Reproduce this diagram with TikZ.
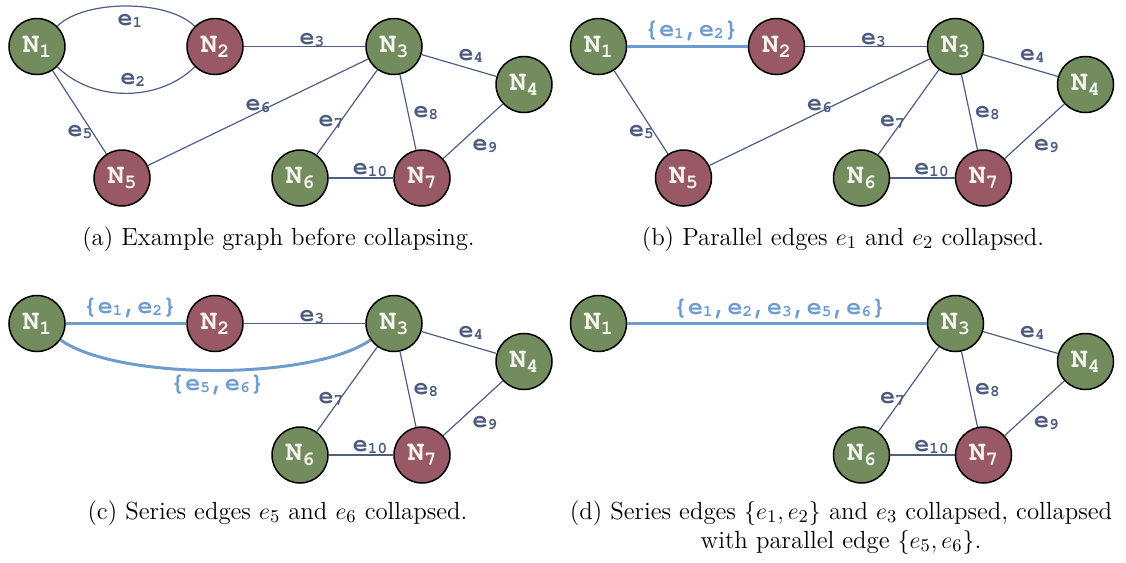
\documentclass[tikz,border=0pt]{standalone}
\usepackage{fontspec}
\newfontfamily\cur{TeX Gyre Cursor}
\definecolor{ngreen}{RGB}{114,140,94}
\definecolor{nred}{RGB}{152,88,101}
\definecolor{edgec}{RGB}{78,94,132}
\definecolor{labc}{RGB}{76,90,126}
\definecolor{hic}{RGB}{110,156,207}
\definecolor{ntext}{RGB}{244,244,238}
\newcommand\elab[1]{e\raisebox{-1pt}{\fontsize{8}{8}\selectfont #1}}
\newcommand\nlab[1]{N\raisebox{-2.5pt}{\fontsize{10}{10}\selectfont #1}}
\tikzset{
  gnode/.style={circle, draw=black, line width=0.75pt, fill=ngreen, minimum size=28pt,
    inner sep=0pt, text=ntext, font=\cur\bfseries\fontsize{14}{14}\selectfont},
  rnode/.style={gnode, fill=nred},
  conn/.style={draw=edgec, line width=0.6pt},
  hiconn/.style={draw=hic, line width=1.5pt},
  lbl/.style={text=labc, inner sep=0pt, text height=5pt, text depth=1.5pt,
    font=\cur\bfseries\fontsize{12.5}{12.5}\selectfont},
  hlbl/.style={text=hic},
  captext/.style={inner sep=0pt, font=\fontsize{12.4}{14.5}\selectfont}
}
\begin{document}
\begin{tikzpicture}[x=0.5pt, y=-0.5pt]
\useasboundingbox (0,0) rectangle (1126,563);

% ---------- panel (a)
\begin{scope}
\node[gnode] (a1) at (37,46.5) {\nlab1};
\node[rnode] (a2) at (215,46.5) {\nlab2};
\node[gnode] (a3) at (394,46.5) {\nlab3};
\node[gnode] (a4) at (524,84.5) {\nlab4};
\node[rnode] (a5) at (122,178) {\nlab5};
\node[gnode] (a6) at (300,178) {\nlab6};
\node[rnode] (a7) at (422,178) {\nlab7};
\draw[conn] (a1.45) .. controls +(26.9,-26.9) and +(-26.9,-26.9) .. node[lbl, xshift=2pt, yshift=-8pt]{\elab1} (a2.135);
\draw[conn] (a1.-45) .. controls +(35.4,35.4) and +(-35.4,35.4) .. node[lbl, xshift=3.5pt, yshift=6.2pt]{\elab2} (a2.-135);
\draw[conn] (a2) -- node[lbl, xshift=3.75pt, yshift=2.75pt]{\elab3} (a3);
\draw[conn] (a3) -- node[lbl, xshift=6pt, yshift=4.25pt]{\elab4} (a4);
\draw[conn] (a1) -- node[lbl, xshift=0.25pt, yshift=-10.4pt]{\elab5} (a5);
\draw[conn] (a5) -- node[lbl, yshift=2.6pt]{\elab6} (a3);
\draw[conn] (a3) -- node[lbl, xshift=-8pt, yshift=-5.6pt]{\elab7} (a6);
\draw[conn] (a3) -- node[lbl, xshift=9pt, yshift=-0.9pt]{\elab8} (a7);
\draw[conn] (a4) -- node[lbl, xshift=6pt, yshift=-7.9pt]{\elab9} (a7);
\draw[conn] (a6) -- node[lbl, xshift=4.5pt, yshift=3.5pt]{\elab{10}} (a7);
\end{scope}

% ---------- panel (b)
\begin{scope}[shift={(561.5,0)}]
\node[gnode] (b1) at (37,46.5) {\nlab1};
\node[rnode] (b2) at (215,46.5) {\nlab2};
\node[gnode] (b3) at (394,46.5) {\nlab3};
\node[gnode] (b4) at (524,84.5) {\nlab4};
\node[rnode] (b5) at (122,178) {\nlab5};
\node[gnode] (b6) at (300,178) {\nlab6};
\node[rnode] (b7) at (422,178) {\nlab7};
\draw[hiconn] (b1) -- node[lbl, hlbl, xshift=2pt, yshift=6.75pt]{\{\elab1,\elab2\}} (b2);
\draw[conn] (b2) -- node[lbl, xshift=3.75pt, yshift=2.75pt]{\elab3} (b3);
\draw[conn] (b3) -- node[lbl, xshift=6pt, yshift=4.25pt]{\elab4} (b4);
\draw[conn] (b1) -- node[lbl, xshift=0.25pt, yshift=-10.4pt]{\elab5} (b5);
\draw[conn] (b5) -- node[lbl, yshift=2.6pt]{\elab6} (b3);
\draw[conn] (b3) -- node[lbl, xshift=-8pt, yshift=-5.6pt]{\elab7} (b6);
\draw[conn] (b3) -- node[lbl, xshift=9pt, yshift=-0.9pt]{\elab8} (b7);
\draw[conn] (b4) -- node[lbl, xshift=6pt, yshift=-7.9pt]{\elab9} (b7);
\draw[conn] (b6) -- node[lbl, xshift=4.5pt, yshift=3.5pt]{\elab{10}} (b7);
\end{scope}

% ---------- panel (c)
\begin{scope}[shift={(0,277)}]
\node[gnode] (c1) at (37,46.5) {\nlab1};
\node[rnode] (c2) at (215,46.5) {\nlab2};
\node[gnode] (c3) at (394,46.5) {\nlab3};
\node[gnode] (c4) at (524,84.5) {\nlab4};
\node[gnode] (c6) at (300,178) {\nlab6};
\node[rnode] (c7) at (422,178) {\nlab7};
\draw[hiconn] (c1) -- node[lbl, hlbl, xshift=2pt, yshift=6.75pt]{\{\elab1,\elab2\}} (c2);
\draw[hiconn] (c1.-35) .. controls +(58.2,40.7) and +(-58.2,40.7) .. node[lbl, hlbl, xshift=1pt, yshift=-8.35pt]{\{\elab5,\elab6\}} (c3.-145);
\draw[conn] (c2) -- node[lbl, xshift=3.75pt, yshift=2.75pt]{\elab3} (c3);
\draw[conn] (c3) -- node[lbl, xshift=6pt, yshift=4.25pt]{\elab4} (c4);
\draw[conn] (c3) -- node[lbl, xshift=-8pt, yshift=-5.6pt]{\elab7} (c6);
\draw[conn] (c3) -- node[lbl, xshift=9pt, yshift=-0.9pt]{\elab8} (c7);
\draw[conn] (c4) -- node[lbl, xshift=6pt, yshift=-7.9pt]{\elab9} (c7);
\draw[conn] (c6) -- node[lbl, xshift=4.5pt, yshift=3.5pt]{\elab{10}} (c7);
\end{scope}

% ---------- panel (d)
\begin{scope}[shift={(561.5,277)}]
\node[gnode] (d1) at (37,46.5) {\nlab1};
\node[gnode] (d3) at (394,46.5) {\nlab3};
\node[gnode] (d4) at (524,84.5) {\nlab4};
\node[gnode] (d6) at (300,178) {\nlab6};
\node[rnode] (d7) at (422,178) {\nlab7};
\draw[hiconn] (d1) -- node[lbl, hlbl, xshift=1.25pt, yshift=6.5pt]{\{\elab1,\elab2,\elab3,\elab5,\elab6\}} (d3);
\draw[conn] (d3) -- node[lbl, xshift=6pt, yshift=4.25pt]{\elab4} (d4);
\draw[conn] (d3) -- node[lbl, xshift=-8pt, yshift=-5.6pt]{\elab7} (d6);
\draw[conn] (d3) -- node[lbl, xshift=9pt, yshift=-0.9pt]{\elab8} (d7);
\draw[conn] (d4) -- node[lbl, xshift=6pt, yshift=-7.9pt]{\elab9} (d7);
\draw[conn] (d6) -- node[lbl, xshift=4.5pt, yshift=3.5pt]{\elab{10}} (d7);
\end{scope}

% ---------- captions
\node[captext, anchor=base] (capa) at (278.5,245) {(a) Example graph before collapsing.};
\node[captext, anchor=base] (capb) at (843,245) {(b) Parallel edges $e_1$ and $e_2$ collapsed.};
\node[captext, anchor=base] (capc) at (277.5,519) {(c) Series edges $e_5$ and $e_6$ collapsed.};
\node[captext, anchor=base, align=center] (capd) at (841,548) {(d) Series edges $\{e_1,e_2\}$ and $e_3$ collapsed, collapsed\\ with parallel edge $\{e_5,e_6\}$.};
\end{tikzpicture}
\end{document}
